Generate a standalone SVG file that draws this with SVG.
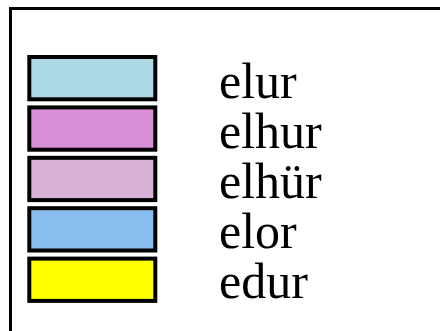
<svg xmlns="http://www.w3.org/2000/svg" width="440" height="331" viewBox="0 0 440 331">
<style>
.sw{stroke:#000;stroke-width:4}
.lb{font-family:"Liberation Serif","Times New Roman",serif;font-size:50px;fill:#000}
</style>
<rect x="0" y="0" width="440" height="331" fill="#fff"/>
<path d="M10.5 331 V8.5 H440" fill="none" stroke="#000" stroke-width="3"/>
<g id="item1"><rect class="sw" x="29.3" y="57" width="126" height="42.3" fill="#ADD8E6"/><text class="lb" x="219" y="97.5">elur</text></g>
<g id="item2"><rect class="sw" x="29.3" y="107.4" width="126" height="42.3" fill="#D68ED6"/><text class="lb" x="219" y="147.5">elhur</text></g>
<g id="item3"><rect class="sw" x="29.3" y="157.8" width="126" height="42.3" fill="#D8B2D6"/><text class="lb" x="219" y="197.6">elhür</text></g>
<g id="item4"><rect class="sw" x="29.3" y="208.2" width="126" height="42.3" fill="#88BDF0"/><text class="lb" x="219" y="247.7">elor</text></g>
<g id="item5"><rect class="sw" x="29.3" y="258.6" width="126" height="42.3" fill="#FFFF00"/><text class="lb" x="219" y="297.8">edur</text></g>
<g id="connectors"></g>
</svg>
